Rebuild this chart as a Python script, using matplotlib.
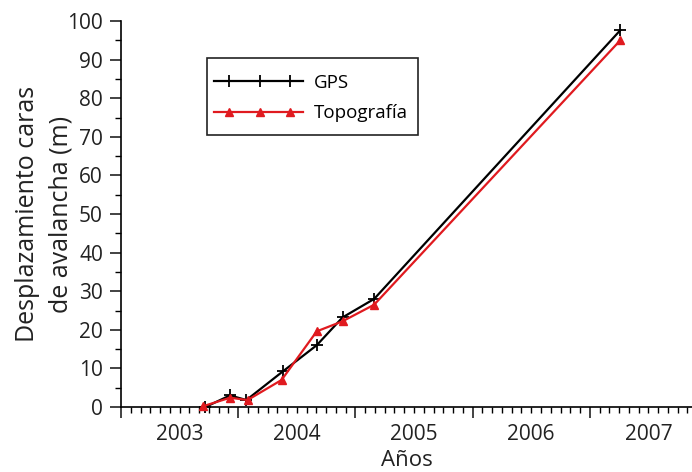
import numpy as np
import matplotlib
matplotlib.use('Agg')
import matplotlib.pyplot as plt
from matplotlib.ticker import MultipleLocator
from matplotlib.legend_handler import HandlerLine2DCompound
from matplotlib.patches import Rectangle

plt.rcParams['font.family'] = ['Open Sans', 'DejaVu Sans']

# años (fracción decimal) y desplazamientos (m)
gps_x = [2003.72, 2003.93, 2004.07, 2004.38, 2004.67, 2004.89, 2005.16, 2007.26]
gps_y = [0.0, 3.0, 1.8, 9.2, 16.0, 23.2, 28.0, 97.6]
topo_x = [2003.70, 2003.93, 2004.08, 2004.37, 2004.67, 2004.89, 2005.16, 2007.26]
topo_y = [0.2, 2.4, 1.8, 7.0, 19.6, 22.2, 26.5, 95.0]
years = [2003, 2004, 2005, 2006, 2007]


class LongLineHandler(HandlerLine2DCompound):
    # línea completa, marcadores metidos hacia dentro
    def get_xdata(self, legend, xdescent, ydescent, width, height, fontsize):
        line_x = np.linspace(-xdescent, -xdescent + width, 3)
        mark_x = np.linspace(-xdescent + 0.85 * fontsize, -xdescent + width - 0.65 * fontsize, 3)
        return line_x, mark_x


fig = plt.figure(figsize=(6.92, 4.72), dpi=100)
ax = fig.add_axes([121 / 692, 1 - 407 / 472, 1 - 121 / 692, 386 / 472])

ax.plot(gps_x, gps_y, color='black', lw=1.6, marker='+', ms=8, mew=1.3,
        label='GPS', clip_on=False, zorder=3)
ax.plot(topo_x, topo_y, color='#e01a1f', lw=1.6, marker='^', ms=6,
        label='Topografía', clip_on=False, zorder=4)

ax.set_xlim(2003.0, 2003.0 + 571 / 117.2)
ax.set_ylim(0, 100)

for s in ['top', 'right']:
    ax.spines[s].set_visible(False)
for s in ['left', 'bottom']:
    ax.spines[s].set_linewidth(1.2)

ax.xaxis.set_major_locator(MultipleLocator(1))
ax.xaxis.set_minor_locator(MultipleLocator(1 / 12))
ax.set_xticklabels([])
ax.yaxis.set_major_locator(MultipleLocator(10))
ax.yaxis.set_minor_locator(MultipleLocator(5))
ax.tick_params(which='major', length=8, width=1.2, direction='out', labelsize=15, colors='#222222')
ax.tick_params(which='minor', length=4.5, width=1.0, direction='out')
ax.tick_params(axis='y', pad=5)

# etiquetas de año centradas en cada intervalo
sec = ax.secondary_xaxis('bottom')
sec.set_xticks([y + 0.5 for y in years], [str(y) for y in years])
sec.tick_params(length=0, labelsize=15, pad=12, colors='#222222')
sec.spines['bottom'].set_visible(False)
sec.set_xlabel('Años', fontsize=16, labelpad=4, color='#222222')

ax.set_ylabel('Desplazamiento caras\nde avalancha (m)', fontsize=18,
              linespacing=1.45, labelpad=-4.5, color='#222222')

# leyenda sin marco + recuadro propio (más alto que el de matplotlib)
leg = ax.legend(loc='center left', bbox_to_anchor=(0.1506, 0.8005), borderaxespad=0,
                fontsize=13.5, numpoints=3, handlelength=4.75, handletextpad=0.6,
                labelspacing=0.65, borderpad=0.35, frameon=False,
                handler_map={plt.Line2D: LongLineHandler()})
ax.add_patch(Rectangle((0.1506, 0.7047), 0.5201 - 0.1506, 0.9041 - 0.7047,
                       transform=ax.transAxes, facecolor='white', edgecolor='#222222',
                       lw=1.2, zorder=5))
leg.set_zorder(6)

plt.savefig('out.png', dpi=100)
plt.close()
